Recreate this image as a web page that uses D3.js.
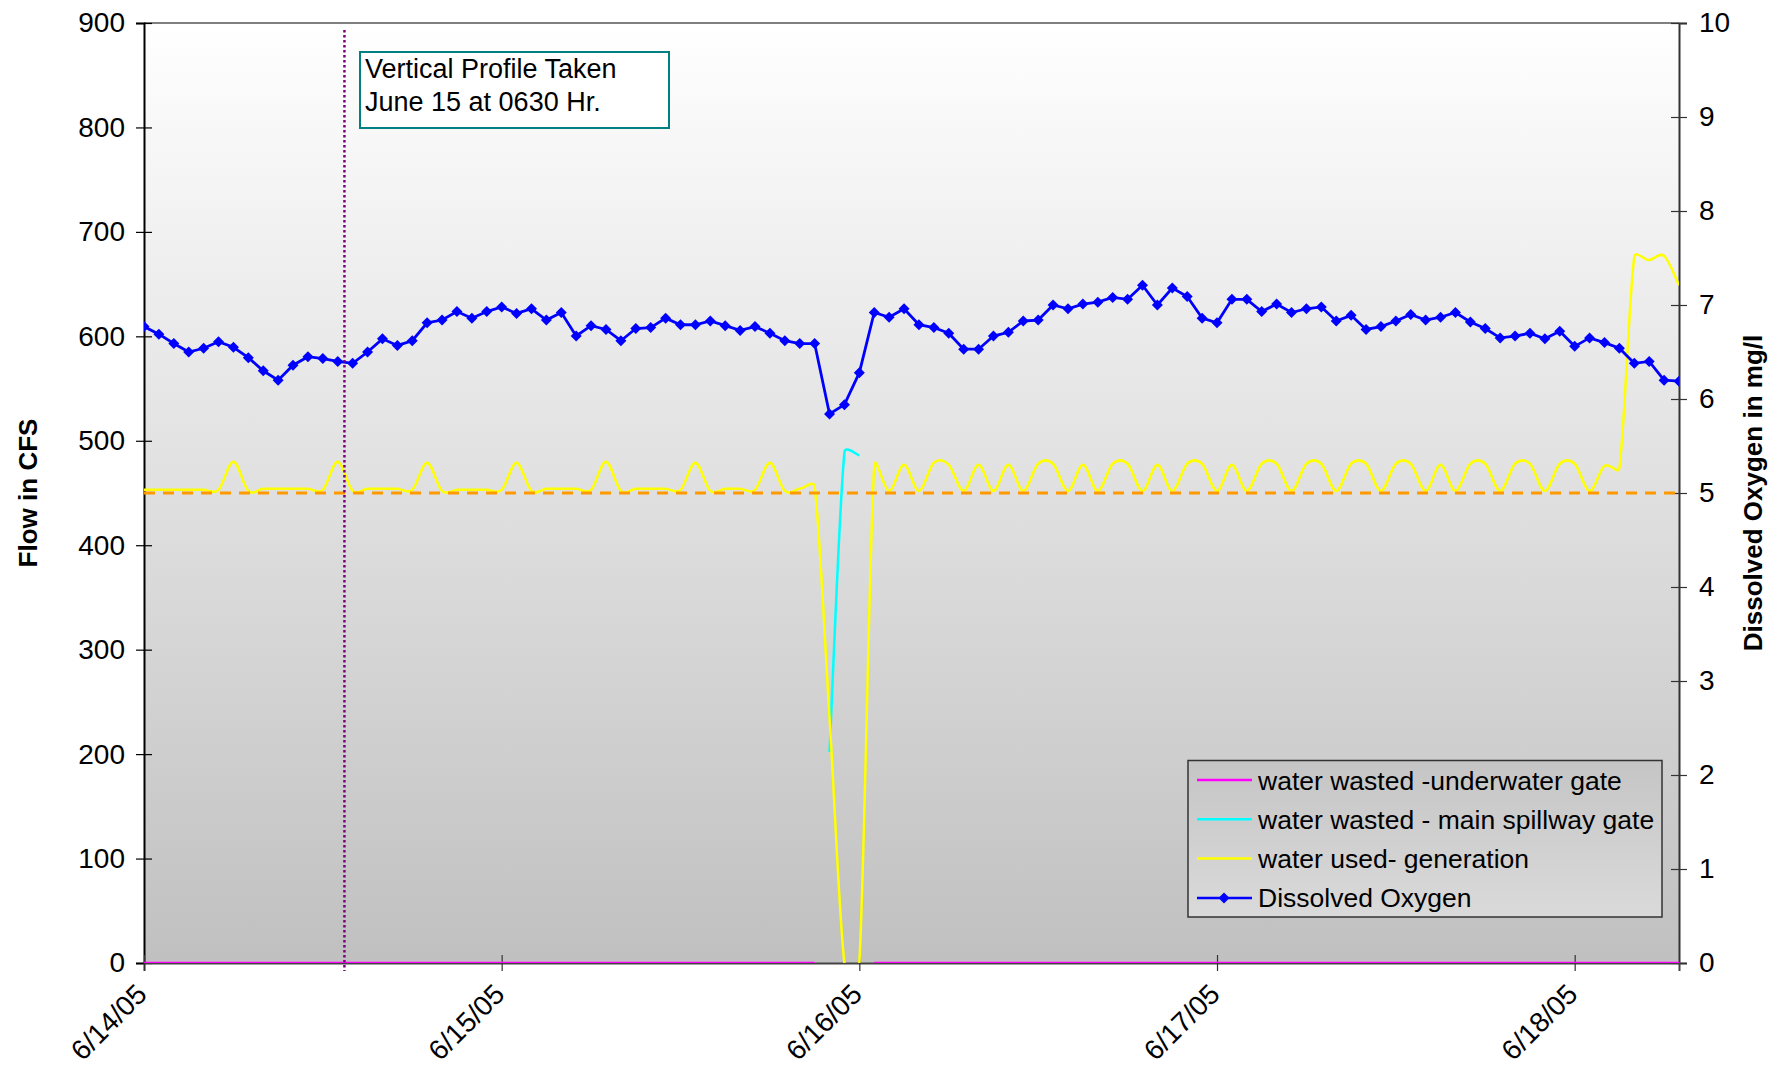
<!DOCTYPE html>
<html><head><meta charset="utf-8">
<script src="https://cdn.jsdelivr.net/npm/d3@7"></script>
<style>
body{margin:0;background:#fff;}
text{font-family:"Liberation Sans",Arial,Helvetica,sans-serif;}
</style>
</head><body>
<svg id="chart" width="1774" height="1070"></svg>
<script>
// ---------------- DATA ----------------
const startTime = new Date(2005, 5, 14, 0, 0);       // first hourly reading
const endTime = new Date(2005, 5, 18, 7, 0);         // last hourly reading
const profileTime = new Date(2005, 5, 14, 13, 27);   // vertical profile marker
const xTickLabels = ["6/14/05", "6/15/05", "6/16/05", "6/17/05", "6/18/05"];
const xTickDates = [new Date(2005,5,14), new Date(2005,5,15), new Date(2005,5,16), new Date(2005,5,17), new Date(2005,5,18)];
const leftTicks = [0, 100, 200, 300, 400, 500, 600, 700, 800, 900];
const rightTicks = [0, 1, 2, 3, 4, 5, 6, 7, 8, 9, 10];
const doThreshold = 5; // mg/l reference line

// Dissolved oxygen (mg/l), hourly
const dissolvedOxygen = [
 6.77,6.69,6.59,6.50,6.54,6.61,6.55,6.44,6.30,6.20,6.36,6.45,6.43,6.40,6.38,6.50,6.64,6.57,6.62,6.81,6.84,6.93,6.86,6.93,
 6.98,6.91,6.96,6.84,6.92,6.67,6.78,6.74,6.62,6.75,6.76,6.86,6.79,6.79,6.83,6.78,6.73,6.77,6.70,6.62,6.59,6.59,5.84,5.94,
 6.28,6.92,6.87,6.96,6.79,6.76,6.70,6.53,6.53,6.67,6.71,6.83,6.84,7.00,6.96,7.01,7.03,7.08,7.06,7.21,7.00,7.18,7.09,6.86,
 6.81,7.06,7.06,6.93,7.01,6.92,6.96,6.98,6.83,6.89,6.74,6.77,6.83,6.90,6.84,6.87,6.92,6.82,6.75,6.65,6.67,6.70,6.64,6.72,
 6.56,6.65,6.60,6.54,6.38,6.40,6.20,6.19
];

// water used - generation (CFS), hourly
const generation = [
 453,453,453,453,453,453,480,452,454,454,454,454,453,480,452,454,454,454,453,479,452,453,453,453,
 453,479,452,454,454,454,453,480,452,454,454,454,453,479,452,454,454,453,479,452,454,456,235,0,
 0,476,452,477,452,479,477,452,477,452,477,452,478,478,452,477,452,478,478,452,477,452,478,478,
 452,477,452,478,478,452,478,478,452,478,478,452,478,478,452,477,452,478,478,452,478,478,452,478,
 478,452,476,474,676,673,677,649
];

// water wasted - main spillway gate (CFS): only hours 46-48 have values
const spillway = [
 null,null,null,null,null,null,null,null,null,null,null,null,null,null,null,null,null,null,null,null,null,null,null,null,
 null,null,null,null,null,null,null,null,null,null,null,null,null,null,null,null,null,null,null,null,null,null,202,489,
 486,null,null,null,null,null,null,null,null,null,null,null,null,null,null,null,null,null,null,null,null,null,null,null,
 null,null,null,null,null,null,null,null,null,null,null,null,null,null,null,null,null,null,null,null,null,null,null,null,
 null,null,null,null,null,null,null,null
];

// water wasted - underwater gate (CFS): zero, missing around the outage
const underwater = [
 0,0,0,0,0,0,0,0,0,0,0,0,0,0,0,0,0,0,0,0,0,0,0,0,
 0,0,0,0,0,0,0,0,0,0,0,0,0,0,0,0,0,0,0,0,0,0,null,null,
 null,0,0,0,0,0,0,0,0,0,0,0,0,0,0,0,0,0,0,0,0,0,0,0,
 0,0,0,0,0,0,0,0,0,0,0,0,0,0,0,0,0,0,0,0,0,0,0,0,
 0,0,0,0,0,0,0,0
];

const seriesNames = ["water wasted -underwater gate", "water wasted - main spillway gate", "water used- generation", "Dissolved Oxygen"];
const seriesColors = ["#ff00ff", "#00ffff", "#ffff00", "#0000ff"];

// ---------------- CHART ----------------
const svg = d3.select("#chart");
const L = 144, R = 1679, T = 23, B = 963;
const timeAt = i => d3.timeHour.offset(startTime, i);

const x = d3.scaleTime().domain([startTime, endTime]).range([L, R]);
const yL = d3.scaleLinear().domain([0, 900]).range([B, T]);
const yR = d3.scaleLinear().domain([0, 10]).range([B, T]);

// spreadsheet-style smoothed line (Bezier with capped tangents)
function curveSmoothed(context) {
  let pts;
  return {
    areaStart() {}, areaEnd() {},
    lineStart() { pts = []; },
    point(px, py) { pts.push([+px, +py]); },
    lineEnd() {
      const n = pts.length;
      if (!n) return;
      context.moveTo(pts[0][0], pts[0][1]);
      const dist = (a, b) => Math.hypot(a[0] - b[0], a[1] - b[1]);
      for (let i = 0; i < n - 1; i++) {
        const p0 = pts[Math.max(i - 1, 0)], p1 = pts[i], p2 = pts[i + 1], p3 = pts[Math.min(i + 2, n - 1)];
        const d12 = dist(p1, p2), d02 = dist(p0, p2), d13 = dist(p1, p3);
        const f1 = (d02 / 6 < d12 / 2 || d02 === 0) ? 1 / 6 : d12 / (2 * d02);
        const f2 = (d13 / 6 < d12 / 2 || d13 === 0) ? 1 / 6 : d12 / (2 * d13);
        context.bezierCurveTo(
          p1[0] + f1 * (p2[0] - p0[0]), p1[1] + f1 * (p2[1] - p0[1]),
          p2[0] - f2 * (p3[0] - p1[0]), p2[1] - f2 * (p3[1] - p1[1]),
          p2[0], p2[1]);
      }
    }
  };
}

const defs = svg.append("defs");
const bg = defs.append("linearGradient").attr("id", "bg").attr("x1", 0).attr("y1", 0).attr("x2", 0).attr("y2", 1);
bg.append("stop").attr("offset", "0%").attr("stop-color", "#ffffff");
bg.append("stop").attr("offset", "100%").attr("stop-color", "#c0c0c0");
const lg = defs.append("linearGradient").attr("id", "lg").attr("x1", 0).attr("y1", 0).attr("x2", 0).attr("y2", 1);
lg.append("stop").attr("offset", "0%").attr("stop-color", "#c5c5c5");
lg.append("stop").attr("offset", "100%").attr("stop-color", "#dadada");
defs.append("clipPath").attr("id", "clip").append("rect")
  .attr("x", L).attr("y", T).attr("width", R - L).attr("height", B - T);

svg.append("rect").attr("x", L).attr("y", T).attr("width", R - L).attr("height", B - T).attr("fill", "url(#bg)");
// top border of plot area
svg.append("line").attr("x1", L).attr("x2", R).attr("y1", T).attr("y2", T).attr("stroke", "#808080").attr("stroke-width", 2);

// axes
const gL = svg.append("g").attr("transform", `translate(${L},0)`)
  .call(d3.axisLeft(yL).tickValues(leftTicks).tickSize(8));
gL.select(".domain").attr("stroke", "#000").attr("stroke-width", 2);
gL.selectAll(".tick line").attr("x1", 8).attr("x2", -8).attr("stroke", "#000").attr("stroke-width", 1.2);
gL.selectAll(".tick text").attr("font-size", 28).attr("fill", "#000").attr("x", -19);

const gR = svg.append("g").attr("transform", `translate(${R},0)`)
  .call(d3.axisRight(yR).tickValues(rightTicks).tickSize(8));
gR.select(".domain").attr("stroke", "#333").attr("stroke-width", 2);
gR.selectAll(".tick line").attr("x1", -8).attr("x2", 8).attr("stroke", "#333").attr("stroke-width", 1.2);
gR.selectAll(".tick text").attr("font-size", 28).attr("fill", "#000").attr("x", 20);

const gX = svg.append("g").attr("transform", `translate(0,${B})`)
  .call(d3.axisBottom(x).tickValues(xTickDates).tickFormat((d, i) => xTickLabels[i]).tickSize(8));
gX.select(".domain").attr("stroke", "#444").attr("stroke-width", 2);
gX.selectAll(".tick line").attr("y1", -8).attr("y2", 8).attr("stroke", "#333").attr("stroke-width", 1.2);
gX.selectAll(".tick text").attr("font-size", 28).attr("fill", "#000")
  .attr("text-anchor", "end").attr("dy", 0).attr("y", 0)
  .attr("transform", "translate(4,33) rotate(-45)");

// axis titles
svg.append("text").attr("transform", `translate(37,${(T + B) / 2}) rotate(-90)`)
  .attr("text-anchor", "middle").attr("font-size", 26).attr("font-weight", "bold").text("Flow in CFS");
svg.append("text").attr("transform", `translate(1762,${(T + B) / 2}) rotate(-90)`)
  .attr("text-anchor", "middle").attr("font-size", 26).attr("font-weight", "bold").text("Dissolved Oxygen in mg/l");

const plot = svg.append("g").attr("clip-path", "url(#clip)");

const flowLine = (curve) => d3.line()
  .defined(d => d.v !== null)
  .x(d => x(d.t)).y(d => yL(d.v)).curve(curve);
const toPts = arr => arr.map((v, i) => ({ t: timeAt(i), v }));

plot.append("path").datum(toPts(underwater)).attr("fill", "none")
  .attr("stroke", seriesColors[0]).attr("stroke-width", 2.5).attr("d", flowLine(d3.curveLinear));
plot.append("path").datum(toPts(spillway)).attr("fill", "none")
  .attr("stroke", seriesColors[1]).attr("stroke-width", 2.5).attr("d", flowLine(curveSmoothed));
plot.append("path").datum(toPts(generation)).attr("fill", "none")
  .attr("stroke", seriesColors[2]).attr("stroke-width", 2.5).attr("d", flowLine(curveSmoothed));

// 5 mg/l dashed reference line
plot.append("line").attr("x1", L).attr("x2", R)
  .attr("y1", yR(doThreshold)).attr("y2", yR(doThreshold))
  .attr("stroke", "#ff9900").attr("stroke-width", 3).attr("stroke-dasharray", "11,8");

// dissolved oxygen
const doPts = dissolvedOxygen.map((v, i) => ({ t: timeAt(i), v }));
plot.append("path").datum(doPts).attr("fill", "none").attr("stroke", seriesColors[3]).attr("stroke-width", 2.8)
  .attr("d", d3.line().x(d => x(d.t)).y(d => yR(d.v)));
const diamond = "M0,-5.5L5.5,0L0,5.5L-5.5,0Z";
plot.selectAll("path.dom").data(doPts).enter().append("path").attr("class", "dom")
  .attr("d", diamond).attr("fill", seriesColors[3])
  .attr("transform", d => `translate(${x(d.t)},${yR(d.v)})`);

// vertical profile marker line
svg.append("line").attr("x1", x(profileTime)).attr("x2", x(profileTime))
  .attr("y1", T + 7).attr("y2", B + 8)
  .attr("stroke", "#800080").attr("stroke-width", 2.5).attr("stroke-dasharray", "2.5,2.5");

// annotation box
svg.append("rect").attr("x", 360).attr("y", 52).attr("width", 309).attr("height", 76)
  .attr("fill", "#ffffff").attr("stroke", "#008080").attr("stroke-width", 2);
svg.append("text").attr("x", 365).attr("y", 78).attr("font-size", 27).text("Vertical Profile Taken");
svg.append("text").attr("x", 365).attr("y", 111).attr("font-size", 27).text("June 15 at 0630 Hr.");

// legend
const lgx = 1188, lgy = 760.5;
svg.append("rect").attr("x", lgx).attr("y", lgy).attr("width", 474).attr("height", 156.5)
  .attr("fill", "url(#lg)").attr("stroke", "#333").attr("stroke-width", 1.5);
seriesNames.forEach((name, i) => {
  const cy = lgy + 19.5 + i * 39.3;
  svg.append("line").attr("x1", lgx + 9).attr("x2", lgx + 64).attr("y1", cy).attr("y2", cy)
    .attr("stroke", seriesColors[i]).attr("stroke-width", 2.5);
  if (i === 3) svg.append("path").attr("d", diamond).attr("fill", seriesColors[i])
    .attr("transform", `translate(${lgx + 36},${cy})`);
  svg.append("text").attr("x", lgx + 70).attr("y", cy + 9.5).attr("font-size", 26.5).text(name);
});
</script>
</body></html>
